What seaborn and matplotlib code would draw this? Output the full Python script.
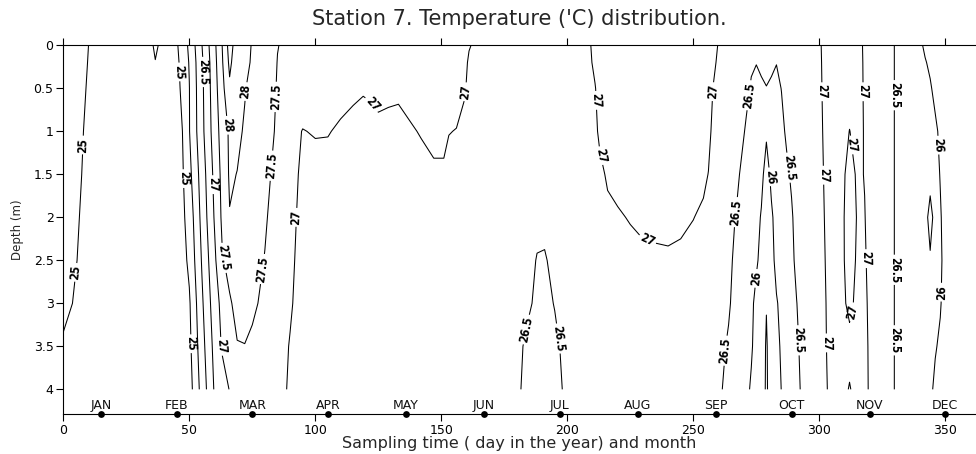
import numpy as np
import pandas as pd
import matplotlib
matplotlib.use("Agg")
import matplotlib.pyplot as plt
import seaborn as sns

# ---------------- data ----------------
depths = [0, 0.2, 0.5, 1, 1.5, 2, 2.5, 3, 3.5, 4]

sample_days = [0, 5, 11, 20, 33, 36.5, 40, 45, 50, 55, 60, 63, 66, 69, 72, 75, 80, 85, 90,
               95, 100, 105, 110, 115, 119, 122, 125, 129, 133, 137, 142, 147, 151, 153, 156,
               159, 161, 165, 175, 180, 184, 188, 191, 195, 199, 205, 209, 211, 213, 216, 220,
               225, 230, 235, 240, 245, 250, 254, 256, 258, 260, 264, 267, 269, 271, 273, 275,
               277, 279, 281, 283, 285, 287, 289, 291, 293, 296, 300, 303, 306, 309, 312, 315,
               318, 321, 326, 329, 331, 335, 340, 342, 344, 346, 348, 350, 355, 362]

# temperature profile (one list per sampling day, values at `depths`)
temperature = [
    [25.2, 25.2, 25.18, 25.15, 25.12, 25.1, 25.09, 25.08, 24.96, 24.9],      # 0
    [25.1, 25.1, 25.08, 25.06, 25.05, 25.03, 25.01, 24.97, 24.92, 24.88],    # 5
    [24.98, 24.97, 24.96, 24.94, 24.92, 24.9, 24.88, 24.87, 24.86, 24.85],   # 11
    [24.85, 24.83, 24.82, 24.8, 24.8, 24.8, 24.8, 24.8, 24.8, 24.8],         # 20
    [24.85, 24.84, 24.82, 24.8, 24.8, 24.8, 24.8, 24.8, 24.8, 24.8],         # 33
    [25.05, 24.99, 24.9, 24.82, 24.8, 24.8, 24.8, 24.8, 24.8, 24.8],         # 36.5
    [24.9, 24.88, 24.84, 24.8, 24.75, 24.72, 24.7, 24.68, 24.66, 24.65],     # 40
    [24.94, 24.88, 24.82, 24.6, 24.6, 24.65, 24.6, 24.6, 24.6, 24.6],        # 45
    [25.59, 25.53, 25.49, 25.48, 25.36, 25.2, 25.1, 24.94, 24.87, 24.78],    # 50
    [26.49, 26.42, 26.39, 26.36, 26.23, 26.15, 26.04, 25.92, 25.81, 25.69],  # 55
    [27.39, 27.34, 27.3, 27.24, 27.13, 27.04, 26.9, 26.77, 26.65, 26.55],    # 60
    [27.99, 27.94, 27.84, 27.7, 27.63, 27.58, 27.45, 27.14, 27.05, 26.78],   # 63
    [28.7, 28.6, 28.42, 28.08, 28.06, 27.98, 27.65, 27.45, 27.3, 27.02],     # 66
    [28.25, 28.2, 28.2, 28.1, 27.99, 27.9, 27.7, 27.62, 27.48, 27.15],       # 69
    [28.1, 28.07, 28.03, 27.95, 27.9, 27.8, 27.7, 27.65, 27.49, 27.2],       # 72
    [27.98, 27.97, 27.85, 27.85, 27.8, 27.7, 27.6, 27.58, 27.42, 27.2],      # 75
    [27.78, 27.76, 27.73, 27.65, 27.56, 27.53, 27.49, 27.4, 27.3, 27.15],    # 80
    [27.51, 27.49, 27.47, 27.45, 27.43, 27.38, 27.3, 27.2, 27.15, 27.08],    # 85
    [27.42, 27.42, 27.4, 27.2, 27.15, 27.12, 27.08, 27.04, 26.98, 26.97],    # 90
    [27.38, 27.37, 27.33, 26.98, 26.92, 26.88, 26.86, 26.85, 26.85, 26.85],  # 95
    [27.35, 27.35, 27.3, 27.04, 26.8, 26.8, 26.8, 26.8, 26.8, 26.8],         # 100
    [27.35, 27.35, 27.3, 27.03, 26.8, 26.8, 26.8, 26.78, 26.78, 26.78],      # 105
    [27.35, 27.33, 27.2, 26.92, 26.8, 26.8, 26.78, 26.78, 26.76, 26.76],     # 110
    [27.35, 27.32, 27.12, 26.82, 26.78, 26.78, 26.76, 26.76, 26.75, 26.75],  # 115
    [27.35, 27.3, 27.05, 26.78, 26.76, 26.76, 26.75, 26.75, 26.74, 26.74],   # 119
    [27.35, 27.3, 27.09, 26.8, 26.76, 26.76, 26.75, 26.75, 26.74, 26.74],    # 122
    [27.35, 27.32, 27.15, 26.88, 26.78, 26.76, 26.75, 26.75, 26.74, 26.74],  # 125
    [27.35, 27.3, 27.12, 26.85, 26.78, 26.76, 26.75, 26.75, 26.74, 26.74],   # 129
    [27.35, 27.3, 27.1, 26.83, 26.78, 26.76, 26.75, 26.75, 26.74, 26.74],    # 133
    [27.35, 27.32, 27.2, 26.92, 26.8, 26.77, 26.76, 26.75, 26.74, 26.74],    # 137
    [27.35, 27.33, 27.25, 27.04, 26.8, 26.77, 26.76, 26.75, 26.74, 26.74],   # 142
    [27.35, 27.33, 27.28, 27.15, 26.91, 26.78, 26.76, 26.75, 26.74, 26.74],  # 147
    [27.35, 27.33, 27.28, 27.15, 26.91, 26.78, 26.76, 26.75, 26.74, 26.74],  # 151
    [27.33, 27.3, 27.25, 27.02, 26.8, 26.77, 26.76, 26.75, 26.74, 26.74],    # 153
    [27.3, 27.28, 27.25, 26.98, 26.8, 26.77, 26.76, 26.75, 26.74, 26.74],    # 156
    [27.28, 27.22, 27.09, 26.8, 26.78, 26.76, 26.75, 26.75, 26.74, 26.74],   # 159
    [27.05, 26.9, 26.85, 26.8, 26.78, 26.76, 26.75, 26.75, 26.74, 26.74],    # 161
    [26.8, 26.8, 26.8, 26.78, 26.75, 26.72, 26.7, 26.68, 26.66, 26.65],      # 165
    [26.85, 26.83, 26.8, 26.78, 26.75, 26.72, 26.7, 26.68, 26.66, 26.65],    # 175
    [26.85, 26.83, 26.8, 26.78, 26.75, 26.72, 26.7, 26.68, 26.65, 26.6],     # 180
    [26.85, 26.82, 26.8, 26.77, 26.74, 26.72, 26.7, 26.6, 26.4, 26.35],      # 184
    [26.85, 26.82, 26.8, 26.76, 26.72, 26.65, 26.47, 26.4, 26.35, 26.3],     # 188
    [26.85, 26.82, 26.8, 26.76, 26.72, 26.65, 26.45, 26.38, 26.33, 26.3],    # 191
    [26.85, 26.82, 26.8, 26.77, 26.74, 26.7, 26.65, 26.52, 26.4, 26.35],     # 195
    [26.88, 26.85, 26.82, 26.8, 26.76, 26.72, 26.7, 26.66, 26.6, 26.55],     # 199
    [26.92, 26.9, 26.88, 26.84, 26.8, 26.76, 26.72, 26.7, 26.66, 26.62],     # 205
    [26.97, 26.95, 26.92, 26.88, 26.84, 26.8, 26.76, 26.72, 26.68, 26.65],   # 209
    [27.15, 27.08, 26.98, 26.9, 26.86, 26.82, 26.78, 26.74, 26.7, 26.67],    # 211
    [27.2, 27.18, 27.15, 27.1, 26.9, 26.85, 26.8, 26.76, 26.72, 26.69],      # 213
    [27.25, 27.22, 27.2, 27.15, 27.06, 26.9, 26.84, 26.78, 26.74, 26.7],     # 216
    [27.3, 27.28, 27.25, 27.2, 27.15, 26.95, 26.86, 26.8, 26.76, 26.72],     # 220
    [27.3, 27.3, 27.28, 27.22, 27.15, 27.03, 26.85, 26.8, 26.76, 26.72],     # 225
    [27.3, 27.3, 27.28, 27.24, 27.18, 27.1, 26.9, 26.82, 26.78, 26.74],      # 230
    [27.3, 27.3, 27.28, 27.25, 27.2, 27.12, 26.92, 26.84, 26.8, 26.76],      # 235
    [27.3, 27.3, 27.28, 27.25, 27.2, 27.14, 26.93, 26.85, 26.8, 26.76],      # 240
    [27.3, 27.3, 27.28, 27.24, 27.2, 27.1, 26.9, 26.84, 26.78, 26.74],       # 245
    [27.28, 27.28, 27.26, 27.22, 27.15, 27.01, 26.85, 26.8, 26.75, 26.7],    # 250
    [27.25, 27.24, 27.22, 27.18, 27.1, 26.92, 26.85, 26.8, 26.74, 26.68],    # 254
    [27.2, 27.18, 27.15, 27.12, 26.99, 26.88, 26.84, 26.78, 26.72, 26.66],   # 256
    [27.15, 27.08, 26.98, 26.88, 26.82, 26.8, 26.78, 26.74, 26.68, 26.62],   # 258
    [26.97, 26.92, 26.88, 26.82, 26.78, 26.75, 26.72, 26.68, 26.62, 26.56],  # 260
    [26.9, 26.85, 26.8, 26.72, 26.68, 26.62, 26.6, 26.55, 26.45, 26.4],      # 264
    [26.85, 26.8, 26.75, 26.68, 26.6, 26.48, 26.4, 26.35, 26.3, 26.28],      # 267
    [26.82, 26.76, 26.7, 26.6, 26.45, 26.38, 26.3, 26.28, 26.25, 26.2],      # 269
    [26.78, 26.7, 26.6, 26.45, 26.35, 26.28, 26.22, 26.2, 26.15, 26.1],      # 271
    [26.72, 26.55, 26.46, 26.3, 26.22, 26.15, 26.1, 26.08, 26.05, 25.95],    # 273
    [26.65, 26.51, 26.4, 26.3, 26.2, 26.12, 26.05, 25.9, 25.85, 25.8],       # 275
    [26.68, 26.56, 26.45, 26.25, 26.1, 25.97, 25.9, 25.88, 25.9, 25.85],     # 277
    [26.7, 26.6, 26.49, 26.05, 25.85, 25.75, 25.7, 25.53, 25.42, 25.4],      # 279
    [26.68, 26.56, 26.45, 26.25, 26.08, 25.95, 25.92, 25.9, 25.9, 25.85],    # 281
    [26.7, 26.51, 26.4, 26.3, 26.2, 26.12, 26.07, 25.98, 25.9, 25.85],       # 283
    [26.75, 26.6, 26.51, 26.4, 26.3, 26.2, 26.12, 26.06, 26.05, 26.01],      # 285
    [26.8, 26.7, 26.62, 26.56, 26.42, 26.35, 26.3, 26.25, 26.2, 26.15],      # 287
    [26.82, 26.75, 26.7, 26.62, 26.56, 26.45, 26.4, 26.35, 26.3, 26.25],     # 289
    [26.85, 26.8, 26.75, 26.7, 26.66, 26.65, 26.6, 26.49, 26.42, 26.38],     # 291
    [26.85, 26.82, 26.8, 26.75, 26.72, 26.7, 26.68, 26.65, 26.6, 26.55],     # 293
    [26.88, 26.85, 26.84, 26.8, 26.78, 26.76, 26.74, 26.72, 26.68, 26.64],   # 296
    [26.95, 26.94, 26.93, 26.92, 26.9, 26.88, 26.86, 26.84, 26.82, 26.8],    # 300
    [27.15, 27.14, 27.13, 27.1, 27.08, 27.06, 27.04, 27.02, 27.01, 26.99],   # 303
    [27.3, 27.3, 27.28, 27.25, 27.22, 27.2, 27.18, 27.16, 27.15, 27.15],     # 306
    [27.3, 27.3, 27.28, 27.2, 27.1, 27.08, 27.08, 27.08, 27.1, 27.1],        # 309
    [27.3, 27.28, 27.2, 26.99, 26.85, 26.8, 26.82, 26.92, 27.1, 26.98],      # 312
    [27.25, 27.25, 27.22, 27.15, 27.05, 27.02, 27.05, 27.08, 27.1, 27.1],    # 315
    [26.9, 26.92, 26.94, 26.97, 26.99, 27.01, 27.03, 27.05, 27.06, 27.07],   # 318
    [26.8, 26.8, 26.8, 26.82, 26.84, 26.86, 26.88, 26.9, 26.92, 26.92],      # 321
    [26.65, 26.65, 26.65, 26.65, 26.65, 26.65, 26.65, 26.65, 26.65, 26.65],  # 326
    [26.55, 26.55, 26.55, 26.55, 26.55, 26.55, 26.55, 26.55, 26.55, 26.55],  # 329
    [26.42, 26.42, 26.42, 26.42, 26.42, 26.42, 26.42, 26.42, 26.42, 26.42],  # 331
    [26.35, 26.33, 26.32, 26.3, 26.3, 26.3, 26.3, 26.3, 26.3, 26.3],         # 335
    [26.05, 26.15, 26.2, 26.22, 26.22, 26.2, 26.2, 26.2, 26.2, 26.2],        # 340
    [25.95, 26.02, 26.1, 26.15, 26.15, 26.1, 26.15, 26.15, 26.15, 26.1],     # 342
    [25.9, 25.95, 26.03, 26.1, 26.1, 25.9, 26.03, 26.1, 26.1, 26.05],        # 344
    [25.85, 25.88, 25.93, 26.05, 26.08, 26.1, 26.1, 26.08, 26.02, 25.95],    # 346
    [25.82, 25.85, 25.88, 25.95, 25.99, 26.02, 26.04, 26.02, 25.96, 25.9],   # 348
    [25.8, 25.82, 25.85, 25.88, 25.9, 25.92, 25.92, 25.9, 25.88, 25.85],     # 350
    [25.75, 25.77, 25.8, 25.82, 25.84, 25.85, 25.85, 25.84, 25.82, 25.8],    # 355
    [25.7, 25.72, 25.75, 25.78, 25.8, 25.8, 25.8, 25.8, 25.78, 25.75],       # 362
]

contour_levels = [25, 25.5, 26, 26.5, 27, 27.5, 28, 28.5]

month_names = ["JAN", "FEB", "MAR", "APR", "MAY", "JUN",
               "JUL", "AUG", "SEP", "OCT", "NOV", "DEC"]
month_days = [15, 45, 75, 105, 136, 167, 197, 228, 259, 289, 320, 350]

x_ticks = [0, 50, 100, 150, 200, 250, 300, 350]
y_ticks = [0, 0.5, 1, 1.5, 2, 2.5, 3, 3.5, 4]

# where the contour labels sit (day, depth)
label_spots = [
    (8.6, 1.16), (5.0, 2.64),
    (45.7, 0.31), (47.4, 1.55), (50.3, 3.47),
    (55.7, 0.31),
    (59.3, 1.62), (62.5, 3.5),
    (65.0, 0.93), (73.5, 0.54),
    (64.2, 2.47), (78.8, 2.6), (84.4, 0.6), (82.7, 1.4),
    (92.3, 2.0), (121.8, 0.7), (159.5, 0.54),
    (182.9, 3.3), (196.2, 3.41),
    (211.5, 0.64), (213.8, 1.28), (231.6, 2.27), (258.7, 0.54),
    (271.9, 0.58), (267.0, 1.94), (262.7, 3.55), (288.5, 1.42), (291.6, 3.43),
    (279.9, 1.53), (275.0, 2.71),
    (301.4, 0.54), (302.0, 1.51), (303.0, 3.46),
    (312.5, 1.16), (313.3, 3.1),
    (317.3, 0.54), (318.7, 2.48),
    (329.5, 0.58), (329.5, 2.61), (329.5, 3.43),
    (347.7, 1.16), (348.3, 2.87),
]

# ---------------- figure ----------------
sns.set_theme(style="white")
plt.rcParams["font.family"] = ["DejaVu Sans"]

W, H = 976, 454
fig = plt.figure(figsize=(W / 100, H / 100), dpi=100)
ax_left, ax_right, ax_top, ax_bottom = 63.3, 976, 45.3, 414.3
ax = fig.add_axes([ax_left / W, 1 - ax_bottom / H,
                   (ax_right - ax_left) / W, (ax_bottom - ax_top) / H])

grid = np.array(temperature).T  # rows = depth, cols = day
cs = ax.contour(sample_days, depths, grid, levels=contour_levels,
                colors="black", linewidths=0.75)

ax.set_xlim(0, (ax_right - ax_left) / 2.52)
ax.set_ylim(4.29, 0)

with plt.rc_context({"font.family": ["Liberation Sans Narrow", "DejaVu Sans Condensed", "DejaVu Sans"],
                     "font.weight": "bold", "font.stretch": "condensed"}):
    ax.clabel(cs, fmt=lambda v: f"{v:g}", manual=label_spots, inline=True,
              inline_spacing=2, fontsize=8.5)

# month markers on the bottom axis
months = pd.DataFrame({"day": month_days, "depth": [4.29] * 12, "month": month_names})
sns.scatterplot(data=months, x="day", y="depth", ax=ax, color="black", s=24,
                edgecolor="black", linewidth=0, clip_on=False, zorder=5, legend=False)
for d, name in zip(month_days, month_names):
    ax.text(d, 4.19, name, ha="center", va="center", fontsize=9, color="#111111")

ax.set_xticks(x_ticks)
ax.set_xticklabels([f"{t:g}" for t in x_ticks], fontsize=9)
ax.set_yticks(y_ticks)
ax.set_yticklabels([f"{t:g}" for t in y_ticks], fontsize=9)
ax.tick_params(axis="both", which="both", direction="out", length=5, width=0.8,
               colors="black", pad=2, bottom=True, left=True, top=True, labeltop=False)
for side in ["left", "bottom", "top"]:
    ax.spines[side].set_visible(True)
    ax.spines[side].set_color("black")
    ax.spines[side].set_linewidth(0.8)
ax.spines["right"].set_visible(False)

ax.set_xlabel("Sampling time ( day in the year) and month", fontsize=11.5)
ax.xaxis.set_label_coords(0.5, -0.058)
ax.set_ylabel("Depth (m)", fontsize=8.5)
ax.yaxis.set_label_coords(-0.043, 0.5)

fig.text((ax_left + ax_right) / 2 / W, 1 - 19 / H,
         "Station 7. Temperature ('C) distribution.", ha="center", va="center",
         fontsize=15)

fig.savefig("out.png", dpi=100, facecolor="white")
